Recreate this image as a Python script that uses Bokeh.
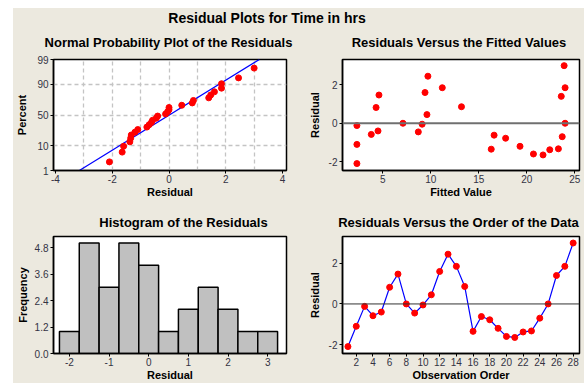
import math
from bokeh.plotting import figure
from bokeh.models import Range1d, FixedTicker, Label, Span, PrintfTickFormatter, Spacer
from bokeh.layouts import row, column
from bokeh.embed import file_html
from bokeh.resources import INLINE

# ---------------- data ----------------
order = list(range(1, 29))
residuals = [-2.1, -1.1, -0.12, -0.58, -0.4, 0.82, 1.47, 0.0, -0.45, -0.05,
             0.45, 1.6, 2.45, 1.85, 0.86, -1.35, -0.62, -0.78, -1.2, -1.6,
             -1.65, -1.38, -1.33, -0.7, 0.0, 1.4, 1.85, 3.0]
fitted = [2.3, 2.3, 2.3, 3.8, 4.5, 4.3, 4.6, 7.1, 8.7, 9.1,
          9.6, 9.4, 9.7, 11.2, 13.2, 16.3, 16.6, 17.8, 19.3, 20.7,
          21.7, 22.4, 23.3, 23.7, 24.0, 23.6, 24.0, 23.9]
hist_centers = [-2.0, -1.5, -1.0, -0.5, 0.0, 0.5, 1.0, 1.5, 2.0, 2.5, 3.0]
hist_counts = [1, 5, 3, 5, 4, 1, 2, 3, 2, 1, 1]
hist_bin_width = 0.5
prob_tick_pct = [1, 10, 50, 90, 99]
prob_grid_pct = [10, 50, 90]

main_title = "Residual Plots for Time in hrs"
panel_titles = ["Normal Probability Plot of the Residuals",
                "Residuals Versus the Fitted Values",
                "Histogram of the Residuals",
                "Residuals Versus the Order of the Data"]

BEIGE = "#ECE9DF"
FONT = "Liberation Sans"
TICK_COLOR = "#333344"


def norm_ppf(p):
    lo, hi = -8.0, 8.0
    for _ in range(90):
        mid = (lo + hi) / 2
        if 0.5 * (1 + math.erf(mid / math.sqrt(2))) < p:
            lo = mid
        else:
            hi = mid
    return (lo + hi) / 2


def hyphen_labels(ticks):
    return {t: ("-" + str(abs(t)) if t < 0 else str(t)) for t in ticks}


def strip(y_top, y_bottom):
    """A beige text strip whose data coordinates equal page pixels."""
    s = figure(width=571, height=y_bottom - y_top, x_range=Range1d(13, 584),
               y_range=Range1d(y_bottom, y_top), output_backend="svg",
               toolbar_location=None, x_axis_type=None, y_axis_type=None,
               min_border_left=0, min_border_right=0, min_border_top=0, min_border_bottom=0)
    s.border_fill_color = BEIGE
    s.background_fill_color = BEIGE
    s.outline_line_color = None
    s.xgrid.visible = False
    s.ygrid.visible = False
    return s


def add_title(s, text, x, y, size):
    s.add_layout(Label(x=x, y=y, text=text, text_font=FONT, text_font_size=size,
                       text_font_style="bold", text_color="black",
                       text_align="center", text_baseline="middle"))


def make_fig(w, h, left, right, top, bottom, xr, yr, xlabel, ylabel, ylab_standoff=5):
    p = figure(width=w, height=h, x_range=xr, y_range=yr,
               output_backend="svg", toolbar_location=None,
               min_border_left=left, min_border_right=right,
               min_border_top=top, min_border_bottom=bottom)
    p.border_fill_color = BEIGE
    p.background_fill_color = "white"
    p.outline_line_color = "black"
    p.outline_line_width = 1.5
    p.xgrid.visible = False
    p.ygrid.visible = False
    for ax in (p.xaxis[0], p.yaxis[0]):
        ax.axis_line_color = "black"
        ax.axis_line_width = 1.5
        ax.major_tick_out = 3
        ax.major_tick_in = 0
        ax.minor_tick_out = 0
        ax.minor_tick_in = 0
        ax.major_tick_line_color = "black"
        ax.major_label_text_font = FONT
        ax.major_label_text_font_size = "10px"
        ax.major_label_text_color = TICK_COLOR
        ax.axis_label_text_font = FONT
        ax.axis_label_text_font_size = "11px"
        ax.axis_label_text_font_style = "bold"
        ax.axis_label_text_color = "black"
    p.xaxis[0].axis_label = xlabel
    p.yaxis[0].axis_label = ylabel
    p.xaxis[0].major_label_standoff = 1
    p.xaxis[0].axis_label_standoff = 0
    p.yaxis[0].major_label_standoff = 2
    p.yaxis[0].axis_label_standoff = ylab_standoff
    return p


def set_ticks(axis, ticks):
    axis.ticker = FixedTicker(ticks=ticks)
    axis.major_label_overrides = hyphen_labels(ticks)


# ---------- title strips ----------
strip1 = strip(8, 50)
add_title(strip1, main_title, 266.5, 17, "14px")
add_title(strip1, panel_titles[0], 168, 41.7, "13px")
add_title(strip1, panel_titles[1], 458.5, 41.7, "13px")

strip2 = strip(200, 231)
add_title(strip2, panel_titles[2], 183, 221.7, "13px")
add_title(strip2, panel_titles[3], 458, 221.7, "13px")

# ---------- normal probability plot (page y 50..200) ----------
n = len(residuals)
sorted_res = sorted(residuals)
prob_z = [norm_ppf((i - 0.3) / (n + 0.4)) for i in range(1, n + 1)]
mean_r = sum(residuals) / n
sd_r = math.sqrt(sum((r - mean_r) ** 2 for r in residuals) / (n - 1))
z_lo, z_hi = norm_ppf(0.01), norm_ppf(0.99)

p1 = make_fig(292, 150, 38, 19, 9, 28, Range1d(-4.07, 4.14), Range1d(z_lo, z_hi),
              "Residual", "Percent", ylab_standoff=6)
set_ticks(p1.xaxis[0], [-4, -2, 0, 2, 4])
tick_z = [norm_ppf(v / 100) for v in prob_tick_pct]
p1.yaxis[0].ticker = FixedTicker(ticks=tick_z)
p1.yaxis[0].major_label_overrides = {z: str(v) for z, v in zip(tick_z, prob_tick_pct)}
p1.xgrid.visible = True
p1.ygrid.visible = True
p1.xgrid.ticker = FixedTicker(ticks=[-3, -2, -1, 0, 1, 2, 3])
p1.ygrid.ticker = FixedTicker(ticks=[norm_ppf(v / 100) for v in prob_grid_pct])
for g in (p1.xgrid[0], p1.ygrid[0]):
    g.grid_line_color = "#C4C4C4"
    g.grid_line_dash = "4 3"
    g.grid_line_width = 1.3
p1.line([mean_r + sd_r * z_lo, mean_r + sd_r * z_hi], [z_lo, z_hi], line_color="#0000FF", line_width=1.2)
p1.scatter(sorted_res, prob_z, size=6, color="#FF0000")

# ---------- residuals vs fitted ----------
p2 = make_fig(279, 150, 33, 5, 9, 27, Range1d(0.8, 25.5), Range1d(-2.46, 3.32),
              "Fitted Value", "Residual", ylab_standoff=5)
set_ticks(p2.xaxis[0], [5, 10, 15, 20, 25])
set_ticks(p2.yaxis[0], [-2, 0, 2])
p2.add_layout(Span(location=0, dimension="width", line_color="#707070", line_width=2))
p2.scatter(fitted, residuals, size=6, color="#FF0000")

# ---------- histogram (page y 231..383) ----------
p3 = make_fig(292, 152, 38, 19, 5, 30, Range1d(-2.4, 3.475), Range1d(0, 5.3),
              "Residual", "Frequency", ylab_standoff=3)
set_ticks(p3.xaxis[0], [-2, -1, 0, 1, 2, 3])
p3.yaxis[0].ticker = FixedTicker(ticks=[0, 1.2, 2.4, 3.6, 4.8])
p3.yaxis[0].formatter = PrintfTickFormatter(format="%.1f")
p3.quad(left=[c - hist_bin_width / 2 for c in hist_centers],
        right=[c + hist_bin_width / 2 for c in hist_centers],
        top=hist_counts, bottom=0, fill_color="#C0C0C0", line_color="black", line_width=1.5)

# ---------- residuals vs order ----------
p4 = make_fig(279, 152, 33, 5, 5, 30, Range1d(0.35, 28.76), Range1d(-2.44, 3.32),
              "Observation Order", "Residual", ylab_standoff=5)
set_ticks(p4.xaxis[0], list(range(2, 29, 2)))
set_ticks(p4.yaxis[0], [-2, 0, 2])
p4.add_layout(Span(location=0, dimension="width", line_color="#333333", line_width=1))
p4.line(order, residuals, line_color="#0000FF", line_width=1.2)
p4.scatter(order, residuals, size=6, color="#FF0000")

inner = column(strip1, row(p1, p2), strip2, row(p3, p4), styles={"background-color": BEIGE})
layout = column(
    Spacer(width=584, height=8),
    row(Spacer(width=13, height=375), inner),
)

open("out.html", "w").write(file_html(layout, INLINE))
